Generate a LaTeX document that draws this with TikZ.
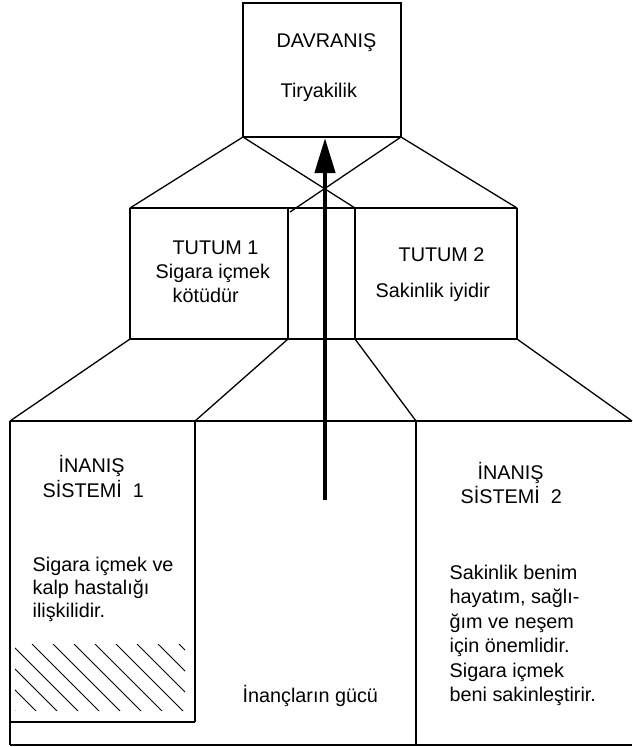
\documentclass[tikz,border=0pt]{standalone}
\usepackage{fontspec}
\setmainfont{Liberation Sans}
\usetikzlibrary{arrows.meta}
\begin{document}
\begin{tikzpicture}[x=1pt,y=-1pt,line width=1.3pt,line join=miter,
  lbl/.style={anchor=base west,inner sep=0pt,font=\fontsize{19.8}{24}\selectfont},
  hatch/.style={line width=1pt},
  bigarrow/.style={line width=4.5pt,-{Triangle[length=35pt,width=20pt]}}]
\useasboundingbox (0,0) rectangle (632,747);
% top box corners
\coordinate (TL) at (243,3);
\coordinate (TR) at (401,3);
\coordinate (BL) at (243,137);
\coordinate (BR) at (401,137);
% middle row
\coordinate (m1t) at (130,208);
\coordinate (m2t) at (288,208);
\coordinate (m3t) at (355,208);
\coordinate (m4t) at (517,208);
\coordinate (m1b) at (130,339);
\coordinate (m2b) at (288,339);
\coordinate (m3b) at (355,339);
\coordinate (m4b) at (517,339);
\coordinate (mx) at (290,212);
% bottom row
\coordinate (b1t) at (10,421);
\coordinate (b2t) at (195,421);
\coordinate (b3t) at (416,421);
\coordinate (b4t) at (632,421);
\coordinate (b1m) at (10,722);
\coordinate (b2b) at (195,722);
\coordinate (b1b) at (10,745);
\coordinate (b3b) at (416,745);
\coordinate (b4b) at (632,745);
% arrow ends
\coordinate (arS) at (325,500);
\coordinate (arE) at (325,138);

% top box
\draw (TL) rectangle (BR);
% top to middle
\draw (BL) -- (m1t);
\draw (BL) -- (m3t);
\draw (BR) -- (mx);
\draw (BR) -- (m4t);
% middle row
\draw (m1t) -- (m4t);
\draw (m1b) -- (m4b);
\draw (m1t) -- (m1b);
\draw (m2t) -- (m2b);
\draw (m3t) -- (m3b);
\draw (m4t) -- (m4b);
% middle to bottom
\draw (m1b) -- (b1t);
\draw (m2b) -- (b2t);
\draw (m3b) -- (b3t);
\draw (m4b) -- (b4t);
% bottom row
\draw (b1t) -- (b4t);
\draw (b1t) -- (b1b);
\draw (b2t) -- (b2b);
\draw (b1m) -- (b2b);
\draw (b3t) -- (b3b);
\draw (b1b) -- (b4b);

% hatching
\begin{scope}
\clip (15,644) rectangle (185,710);
\foreach \i in {0,...,12} \draw[hatch] ({-52+\i*21},644) -- ++(68,68);
\end{scope}

% arrow
\draw[bigarrow] (arS) -- (arE);

% texts
\node[lbl] (t1) at (276,47) {DAVRANIŞ};
\node[lbl] (t2) at (280,97) {Tiryakilik};
\node[lbl] (t3) at (172,254) {TUTUM 1};
\node[lbl] (t4) at (155,278) {Sigara içmek};
\node[lbl] (t5) at (172,302) {kötüdür};
\node[lbl] (t6) at (398,261) {TUTUM 2};
\node[lbl] (t7) at (375,297) {Sakinlik iyidir};
\node[lbl] (t8) at (58,472) {İNANIŞ};
\node[lbl] (t9) at (42,497) {SİSTEMİ\ \ 1};
\node[lbl] (t10) at (32,571) {Sigara içmek ve};
\node[lbl] (t11) at (32,594) {kalp hastalığı};
\node[lbl] (t12) at (32,617) {ilişkilidir.};
\node[lbl] (t13) at (477,479) {İNANIŞ};
\node[lbl] (t14) at (460,503) {SİSTEMİ\ \ 2};
\node[lbl] (t15) at (449,579) {Sakinlik benim};
\node[lbl] (t16) at (449,603.5) {hayatım, sağlı-};
\node[lbl] (t17) at (449,628) {ğım ve neşem};
\node[lbl] (t18) at (449,652.5) {için önemlidir.};
\node[lbl] (t19) at (449,677) {Sigara içmek};
\node[lbl] (t20) at (449,701.5) {beni sakinleştirir.};
\node[lbl] (t21) at (242,702) {İnançların gücü};
\end{tikzpicture}
\end{document}
